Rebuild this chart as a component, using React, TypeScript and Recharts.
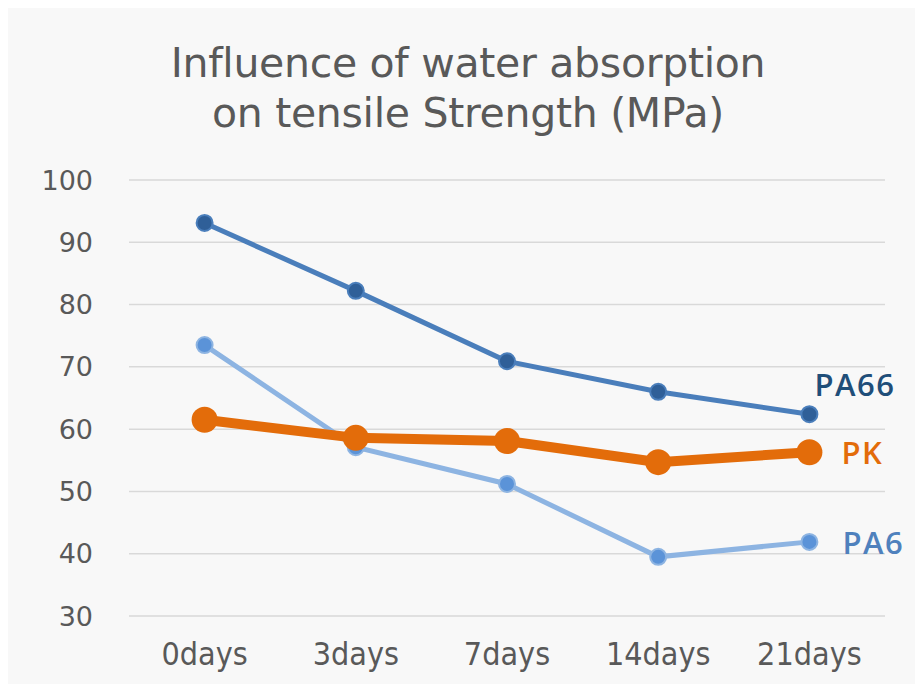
import { LineChart, Line, XAxis, YAxis, CartesianGrid, LabelList } from "recharts";

const days = ["0days", "3days", "7days", "14days", "21days"];
const pa66 = [93.1, 82.2, 70.9, 66.0, 62.4];
const pk = [61.5, 58.6, 58.1, 54.7, 56.3];
const pa6 = [73.5, 57.1, 51.2, 39.5, 41.9];
const yTicks = [30, 40, 50, 60, 70, 80, 90, 100];
const titleLines = ["Influence of water absorption", "on tensile Strength (MPa)"];

const data = days.map((d, i) => ({ day: d, PA66: pa66[i], PK: pk[i], PA6: pa6[i] }));

const condensed = '"DejaVu Sans Condensed", "Liberation Sans Narrow", sans-serif';

// label drawn only next to the last point of each series
const endLabel = (text: string, color: string, dx: number, dy: number) =>
  (props: any) => {
    const { x, y, index } = props;
    if (index !== days.length - 1) return null;
    return (
      <text
        x={x + dx}
        y={y + dy}
        fill={color}
        fontSize={31}
        fontWeight={600}
        letterSpacing={1.5}
        fontFamily='"Open Sans", sans-serif'
        dominantBaseline="central"
      >
        {text}
      </text>
    );
  };

export default function App() {
  return (
    <div style={{ position: "relative", width: 915, height: 676, background: "#f8f8f8" }}>
      <LineChart
        width={915}
        height={676}
        data={data}
        margin={{ top: 172, right: 38, left: 0, bottom: 0 }}
      >
        {titleLines.map((t, i) => (
          <text
            key={i}
            x={460}
            y={69 + i * 50}
            textAnchor="middle"
            fill="#595959"
            fontSize={41}
            letterSpacing={-0.3}
            fontFamily='"DejaVu Sans", sans-serif'
          >
            {t}
          </text>
        ))}
        <CartesianGrid vertical={false} stroke="#d9d9d9" strokeWidth={1.5} />
        <XAxis
          dataKey="day"
          scale="band"
          axisLine={false}
          tickLine={false}
          height={68}
          tick={{ fill: "#595959", fontSize: 32, fontFamily: condensed, fontStretch: "condensed" } as any}
          tickMargin={20}
        />
        <YAxis
          domain={[30, 100]}
          ticks={yTicks}
          width={121}
          axisLine={false}
          tickLine={false}
          tickMargin={30}
          tick={{ fill: "#595959", fontSize: 27, fontFamily: '"DejaVu Sans", sans-serif' }}
        />
        <Line
          dataKey="PA6"
          stroke="#8db4e2"
          strokeWidth={5}
          dot={{ r: 8, fill: "#5b93d8", stroke: "#8db4e2", strokeWidth: 2 }}
          isAnimationActive={false}
        >
          <LabelList content={endLabel("PA6", "#4f81bd", 33, 0)} />
        </Line>
        <Line
          dataKey="PK"
          stroke="#e36c0a"
          strokeWidth={10}
          dot={{ r: 13, fill: "#e36c0a", stroke: "#e36c0a", strokeWidth: 0 }}
          isAnimationActive={false}
        >
          <LabelList content={endLabel("PK", "#e36c0a", 32, 0)} />
        </Line>
        <Line
          dataKey="PA66"
          stroke="#4a7ebb"
          strokeWidth={5}
          dot={{ r: 8, fill: "#2f5f98", stroke: "#4a7ebb", strokeWidth: 2 }}
          isAnimationActive={false}
        >
          <LabelList content={endLabel("PA66", "#1f4e79", 5, -30)} />
        </Line>
      </LineChart>
    </div>
  );
}
